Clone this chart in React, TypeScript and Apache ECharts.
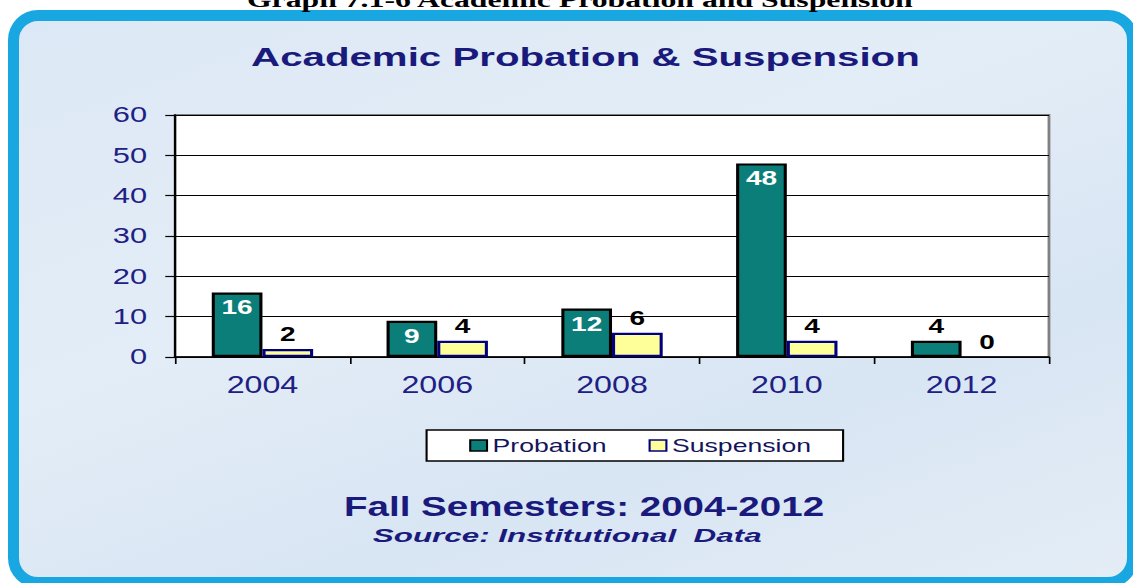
import React, { useEffect, useRef } from "react";
import * as echarts from "echarts";

const categories = ["2004", "2006", "2008", "2010", "2012"];
const probation = [16, 9, 12, 48, 4];
const suspension = [2, 4, 6, 4, 0];
const yTicks = { min: 0, max: 60, interval: 10 };
const seriesNames = ["Probation", "Suspension"];
const captionText = "Graph 7.1-6 Academic Probation and Suspension";
const titleText = "Academic Probation & Suspension";
const footerText = "Fall Semesters: 2004-2012";
const sourceText = "Source: Institutional  Data";

const W = 809;
const H = 583;
const SX = 1133 / W;
const NAVY = "#1a1a7c";
const TEAL = "#0b7e7a";
const YELLOW = "#ffff99";

export default function App() {
  const ref = useRef<HTMLDivElement>(null);
  useEffect(() => {
    if (!ref.current) return;
    const chart = echarts.init(ref.current, null, { renderer: "svg" });
    const probData = probation.map((v) =>
      v >= 8
        ? v
        : { value: v, label: { position: "top", color: "#000", distance: 5 } }
    );
    const suspData = suspension.map((v) =>
      v > 0 ? v : { value: v, itemStyle: { borderWidth: 0 } }
    );
    chart.setOption({
      animation: false,
      textStyle: { fontFamily: "'Liberation Sans', Arial, sans-serif" },
      graphic: [
        {
          type: "text",
          x: 414,
          y: -0.5,
          scaleX: 1.03,
          z: 10,
          style: {
            text: captionText,
            font: "bold 22px 'Liberation Serif', 'Times New Roman', serif",
            fill: "#000",
            align: "center",
            verticalAlign: "middle",
          },
        },
        {
          type: "text",
          x: 418,
          y: 57,
          scaleX: 1.15,
          z: 10,
          style: {
            text: titleText,
            font: "bold 25px 'Liberation Sans', Arial, sans-serif",
            fill: NAVY,
            align: "center",
            verticalAlign: "middle",
          },
        },
        {
          type: "rect",
          z: 1,
          shape: { x: 304.6, y: 430, width: 297.4, height: 31 },
          style: { fill: "#ffffff", stroke: "#000", lineWidth: 1.5 },
        },
        {
          type: "text",
          x: 417,
          y: 507,
          scaleX: 1.02,
          z: 10,
          style: {
            text: footerText,
            font: "bold 27px 'Liberation Sans', Arial, sans-serif",
            fill: NAVY,
            align: "center",
            verticalAlign: "middle",
          },
        },
        {
          type: "text",
          x: 405,
          y: 535,
          scaleX: 1.18,
          z: 10,
          style: {
            text: sourceText,
            font: "italic bold 19px 'Liberation Sans', Arial, sans-serif",
            fill: NAVY,
            align: "center",
            verticalAlign: "middle",
          },
        },
      ],
      legend: {
        z: 5,
        left: 335,
        top: 436,
        padding: 0,
        itemWidth: 12,
        itemHeight: 11,
        itemGap: 30,
        icon: "rect",
        textStyle: { fontSize: 19, color: "#14145a", padding: [0, 0, 0, -1] },
        data: [
          {
            name: seriesNames[0],
            itemStyle: { color: TEAL, borderColor: "#000", borderWidth: 1.5 },
          },
          {
            name: seriesNames[1],
            itemStyle: { color: YELLOW, borderColor: "#000080", borderWidth: 1.5 },
          },
        ],
      },
      grid: {
        left: 125,
        top: 115,
        width: 624,
        height: 242,
        show: true,
        backgroundColor: "#ffffff",
        borderColor: "#808080",
        borderWidth: 2,
      },
      xAxis: {
        type: "category",
        data: categories,
        axisLine: { lineStyle: { color: "#000", width: 1.5 } },
        axisTick: { show: true, length: 7, lineStyle: { color: "#000", width: 1.2 } },
        axisLabel: { fontSize: 23, color: "#202084", margin: 17 },
      },
      yAxis: {
        type: "value",
        min: yTicks.min,
        max: yTicks.max,
        interval: yTicks.interval,
        axisLine: { show: true, lineStyle: { color: "#000", width: 1.5 } },
        axisTick: { show: true, length: 7, lineStyle: { color: "#000", width: 1.2 } },
        axisLabel: { fontSize: 22, color: "#202084", margin: 20 },
        splitLine: { lineStyle: { color: "#000", width: 1 } },
      },
      series: [
        {
          name: seriesNames[0],
          type: "bar",
          data: probData,
          barWidth: "29%",
          barGap: "0%",
          itemStyle: { color: TEAL, borderColor: "#000", borderWidth: 2.2 },
          label: {
            show: true,
            position: "insideTop",
            distance: 5,
            color: "#ffffff",
            fontWeight: "bold",
            fontSize: 20,
          },
        },
        {
          name: seriesNames[1],
          type: "bar",
          data: suspData,
          barWidth: "29%",
          barGap: "0%",
          itemStyle: { color: YELLOW, borderColor: "#000080", borderWidth: 2.2 },
          label: {
            show: true,
            position: "top",
            distance: 5,
            color: "#000",
            fontWeight: "bold",
            fontSize: 20,
          },
        },
      ],
    });
    return () => chart.dispose();
  }, []);

  return (
    <div
      style={{
        position: "fixed",
        left: 0,
        top: 0,
        width: 1133,
        height: H,
        overflow: "hidden",
        background: "#ffffff",
      }}
    >
      <div
        style={{
          position: "absolute",
          left: 8,
          top: 10,
          width: 1130,
          height: 578,
          boxSizing: "border-box",
          border: "11px solid #19a7e2",
          borderRadius: 30,
          background: "linear-gradient(160deg, #dce8f5 0%, #e3edf7 40%, #d8e5f3 70%, #e4edf6 100%)",
        }}
      />
      <div
        ref={ref}
        style={{
          position: "absolute",
          left: 0,
          top: 0,
          width: W,
          height: H,
          transform: `scaleX(${SX})`,
          transformOrigin: "0 0",
        }}
      />
    </div>
  );
}
